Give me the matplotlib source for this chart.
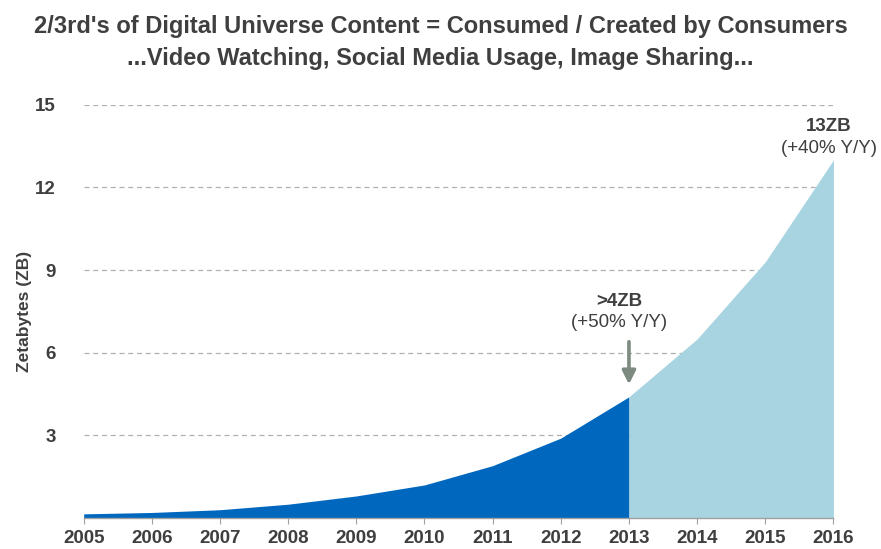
import matplotlib.pyplot as plt
import numpy as np

plt.rcParams['font.family'] = ['Liberation Sans', 'DejaVu Sans']

# 数据
years = [2005, 2006, 2007, 2008, 2009, 2010, 2011, 2012, 2013, 2014, 2015, 2016]
zb = [0.15, 0.2, 0.3, 0.5, 0.8, 1.2, 1.9, 2.9, 4.4, 6.5, 9.3, 13.0]
yticks = [3, 6, 9, 12, 15]
split_year = 2013

dark_blue = "#0067BF"
light_blue = "#A8D4E1"
text_gray = "#3f3f3f"

fig = plt.figure(figsize=(8.81, 5.49), dpi=100)
ax = fig.add_axes([0.095, 0.0565, 0.851, 0.7525])

x = np.array(years)
y = np.array(zb)
past = x <= split_year
future = x >= split_year
ax.fill_between(x[past], 0, y[past], color=dark_blue, linewidth=0, zorder=2)
ax.fill_between(x[future], 0, y[future], color=light_blue, linewidth=0, zorder=2)

ax.set_xlim(years[0], years[-1])
ax.set_ylim(0, 15)
ax.set_xticks(years)
ax.set_xticklabels([str(v) for v in years])
ax.set_yticks(yticks)
ax.set_yticklabels([str(v) for v in yticks])
ax.grid(axis="y", linestyle=(0, (4, 3)), color="#b0b0b0", linewidth=0.9, zorder=1)
ax.set_axisbelow(True)

for s in ["top", "right", "left"]:
    ax.spines[s].set_visible(False)
ax.spines["bottom"].set_color("#a0a0a0")
ax.spines["bottom"].set_linewidth(1.0)
ax.tick_params(axis="x", length=4, color="#a0a0a0", labelsize=13.5, labelcolor=text_gray, pad=5)
ax.tick_params(axis="y", length=0, labelsize=13.5, labelcolor=text_gray, pad=20)
for lab in ax.get_xticklabels() + ax.get_yticklabels():
    lab.set_fontweight("bold")

ax.set_ylabel("Zetabytes (ZB)", fontsize=12.5, fontweight="bold", color=text_gray, labelpad=2)

# 标注
ax.text(2012.86, 7.86, ">4ZB", ha="center", va="center", fontsize=13.5, fontweight="bold", color=text_gray)
ax.text(2012.86, 7.08, "(+50% Y/Y)", ha="center", va="center", fontsize=13.5, color=text_gray)
ax.annotate("", xy=(2013, 4.75), xytext=(2013, 6.5),
            arrowprops=dict(arrowstyle="-|>", color="#7c8a80", lw=2.6, mutation_scale=20))
ax.text(2015.93, 14.2, "13ZB", ha="center", va="center", fontsize=13.5, fontweight="bold", color=text_gray)
ax.text(2015.93, 13.4, "(+40% Y/Y)", ha="center", va="center", fontsize=13.5, color=text_gray)

fig.text(0.5, 0.951, "2/3rd's of Digital Universe Content = Consumed / Created by Consumers",
         ha="center", va="center", fontsize=17, fontweight="bold", color=text_gray)
fig.text(0.5, 0.894, "...Video Watching, Social Media Usage, Image Sharing...",
         ha="center", va="center", fontsize=17, fontweight="bold", color=text_gray)

plt.savefig("out.png", dpi=100)
